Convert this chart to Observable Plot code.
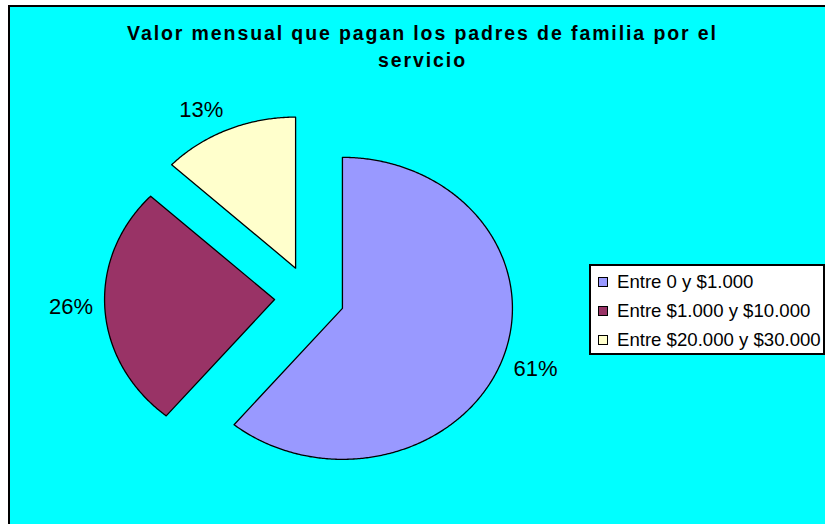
<!DOCTYPE html>
<html>
<head>
<meta charset="utf-8">
<script src="https://cdn.jsdelivr.net/npm/d3@7"></script>
<script src="https://cdn.jsdelivr.net/npm/@observablehq/plot@0.6"></script>
<style>
  html, body { margin: 0; padding: 0; width: 825px; height: 524px; overflow: hidden; background: #ffffff; font-family: "Liberation Sans", Arial, sans-serif; }
  #panel { position: absolute; left: 8px; top: 5px; right: -2px; bottom: -2px; background: #00FFFF; border-left: 2px solid #000; border-top: 2px solid #000; }
  #title { position: absolute; left: 0; top: 20px; width: 845px; text-align: center; font-weight: bold; font-size: 19.5px; letter-spacing: 1.9px; line-height: 27px; color: #000; }
  #chart { position: absolute; left: 0; top: 0; }
  #legend { position: absolute; left: 589px; top: 264px; width: 236px; height: 91px; background: #fff; border: 2px solid #000; box-sizing: border-box; }
  .item { position: absolute; left: 7px; height: 22px; font-size: 18.6px; line-height: 22px; white-space: nowrap; color: #000; }
  .sw { display: inline-block; width: 8px; height: 8px; border: 1px solid #000; margin-right: 9px; vertical-align: 1px; }
</style>
</head>
<body>
<div id="panel"></div>
<div id="title">Valor mensual que pagan los padres de familia por el<br>servicio</div>
<div id="chart"></div>
<div id="legend"></div>
<script>
const categories = ["Entre 0 y $1.000", "Entre $1.000 y $10.000", "Entre $20.000 y $30.000"];
const values = [61, 26, 13];
const labels = ["61%", "26%", "13%"];
const colors = ["#9999FF", "#993366", "#FFFFCC"];

const data = categories.map((c, i) => ({cat: c, value: values[i], label: labels[i]}));

const cx = 309, cy = 297, rx = 170, ry = 151, explodeX = 35, explodeY = 32, labelR = 1.07;
const arcs = d3.pie().sort(null).value(d => d.value)(data);

const pts = [];
const labs = [];
arcs.forEach(a => {
  const mid = (a.startAngle + a.endAngle) / 2;
  const ox = explodeX / rx * Math.sin(mid);
  const oy = explodeY / ry * Math.cos(mid);
  pts.push({cat: a.data.cat, x: ox, y: oy});
  const n = Math.max(8, Math.ceil((a.endAngle - a.startAngle) * 180 / Math.PI * 2));
  for (let k = 0; k <= n; k++) {
    const t = a.startAngle + (a.endAngle - a.startAngle) * k / n;
    pts.push({cat: a.data.cat, x: ox + Math.sin(t), y: oy + Math.cos(t)});
  }
  pts.push({cat: a.data.cat, x: ox, y: oy});
  const s = Math.sin(mid), c = Math.cos(mid);
  labs.push({
    text: a.data.label,
    x: ox + labelR * s,
    y: oy + labelR * c,
    textAnchor: s >= 0 ? "start" : "end",
    lineAnchor: c > 0.3 ? "bottom" : (c < -0.3 ? "top" : "middle")
  });
});

const chart = Plot.plot({
  width: 825,
  height: 524,
  margin: 0,
  style: {background: "transparent", overflow: "visible"},
  x: {domain: [-1, 1], range: [cx - rx, cx + rx], axis: null},
  y: {domain: [-1, 1], range: [cy + ry, cy - ry], axis: null},
  color: {domain: categories, range: colors},
  marks: [
    Plot.line(pts, {x: "x", y: "y", z: "cat", fill: "cat", stroke: "#000", strokeWidth: 1.3, curve: "linear-closed"}),
    ...labs.map(l => Plot.text([l], {x: "x", y: "y", text: "text", textAnchor: l.textAnchor, lineAnchor: l.lineAnchor, dy: -3, fontSize: 22, fill: "#000", fontFamily: "Liberation Sans, Arial, sans-serif"}))
  ]
});
document.getElementById("chart").appendChild(chart);

const legend = document.getElementById("legend");
categories.forEach((c, i) => {
  const it = document.createElement("div");
  it.className = "item";
  it.style.top = (5 + i * 29) + "px";
  const sw = document.createElement("span");
  sw.className = "sw";
  sw.style.background = colors[i];
  it.appendChild(sw);
  it.appendChild(document.createTextNode(c));
  legend.appendChild(it);
});
</script>
</body>
</html>
